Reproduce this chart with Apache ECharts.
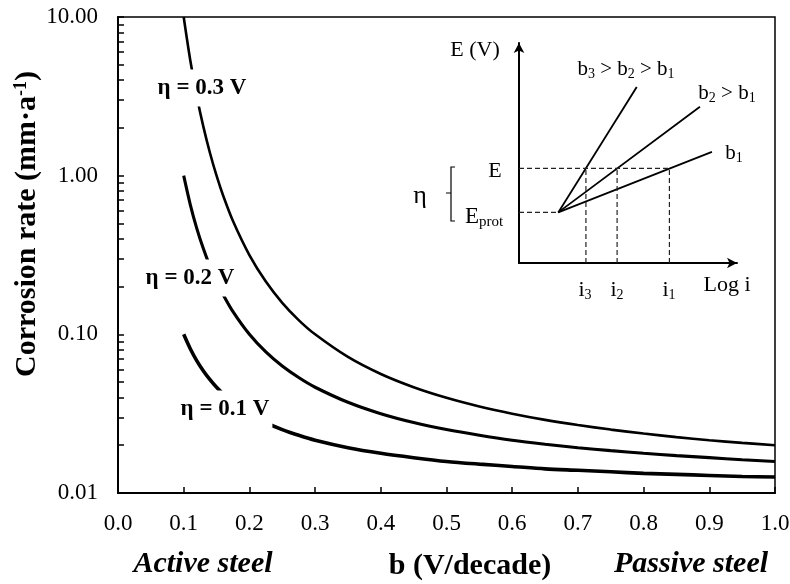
<!DOCTYPE html>
<html>
<head>
<meta charset="utf-8">
<script src="https://cdn.jsdelivr.net/npm/echarts@6/dist/echarts.min.js"></script>
<style>
  html, body { margin: 0; padding: 0; background: #fff; }
  #chart { width: 790px; height: 584px; }
</style>
</head>
<body>
<div id="chart"></div>
<script>
// Tafel slope b (V/decade)
const bValues = [0.1, 0.11, 0.12, 0.13, 0.14, 0.15, 0.16, 0.175, 0.2, 0.225, 0.25, 0.275, 0.3, 0.35,
  0.4, 0.45, 0.5, 0.55, 0.6, 0.65, 0.7, 0.75, 0.8, 0.85, 0.9, 0.95, 1.0]
// corrosion rate (mm/a)
const rate03 = [10, 5.34, 3.16, 2.03, 1.39, 1.0, 0.75, 0.518, 0.316, 0.215, 0.158, 0.123, 0.1, 0.072,
  0.0562, 0.0464, 0.0398, 0.0351, 0.0316, 0.0289, 0.0268, 0.0251, 0.0237, 0.0225, 0.0215, 0.0207, 0.02]
const rate02 = [1.0, 0.658, 0.464, 0.346, 0.268, 0.215, 0.178, 0.139, 0.1, 0.0774, 0.0631, 0.0534, 0.0464, 0.0373,
  0.0316, 0.0278, 0.0251, 0.0231, 0.0215, 0.0203, 0.0193, 0.0185, 0.0178, 0.0172, 0.0167, 0.0162, 0.0158]
const rate01 = [0.1, 0.0811, 0.0681, 0.0588, 0.0518, 0.0464, 0.0422, 0.0373, 0.0316, 0.0278, 0.0251, 0.0231, 0.0215, 0.0193,
  0.0178, 0.0167, 0.0158, 0.0152, 0.0147, 0.0142, 0.0139, 0.0136, 0.0133, 0.0131, 0.0129, 0.0127, 0.0126]
const yLabelValues = [0.01, 0.1, 1, 10]
const yTickValues = [0.01, 0.02, 0.03, 0.04, 0.05, 0.06, 0.07, 0.08, 0.09,
  0.1, 0.2, 0.3, 0.4, 0.5, 0.6, 0.7, 0.8, 0.9,
  1, 2, 3, 4, 5, 6, 7, 8, 9, 10]

// inset sketch (arbitrary units 0-100)
const insetOrigin = [18, 23]
const insetB1 = [88.5, 50.5]
const insetB2 = [83, 71]
const insetB3 = [54, 80]
const insetE = 43
const insetI = [30.7, 45, 69] // i3, i2, i1

const serif = 'Liberation Serif, Times New Roman, serif'
const chart = echarts.init(document.getElementById('chart'))

const pairs = ys => bValues.map((b, i) => [b, ys[i]])
const curve = (name, ys, w) => ({
  name,
  type: 'line',
  data: pairs(ys),
  smooth: 0.3,
  symbol: 'none',
  lineStyle: { color: '#000', width: w },
  z: 3,
})
const insetLine = (data, dashed) => ({
  type: 'line',
  xAxisIndex: 1,
  yAxisIndex: 1,
  data,
  symbol: 'none',
  silent: true,
  lineStyle: dashed ? { color: '#222', width: 1.2, type: [5, 3] } : { color: '#000', width: 1.8 },
})
const txt = (text, x, y, size, extra) => ({
  type: 'text',
  x,
  y,
  z: 100,
  style: Object.assign({
    text,
    fill: '#000',
    font: `${size}px ${serif}`,
    align: 'center',
    textAlign: 'center',
    verticalAlign: 'middle',
    textVerticalAlign: 'middle',
  }, extra || {}),
})
const subRich = size => ({
  n: { fontSize: size, fontFamily: serif, fill: '#000' },
  s: { fontSize: Math.round(size * 0.65), fontFamily: serif, fill: '#000', padding: [11, 0, 0, 0] },
})
const etaLabel = (text, x, y) => txt(text, x, y, 23, {
  font: `bold 23px ${serif}`,
  backgroundColor: '#fff',
  padding: [7, 3],
})

const option = {
  backgroundColor: '#fff',
  animation: false,
  grid: [
    { left: 118, top: 17, width: 657, height: 476, show: true, borderColor: '#000', borderWidth: 1.5, outerBoundsMode: 'none' },
    { left: 519, top: 43, width: 218, height: 220, outerBoundsMode: 'none' },
  ],
  xAxis: [
    {
      type: 'value',
      min: 0,
      max: 1,
      interval: 0.1,
      name: 'b (V/decade)',
      nameLocation: 'middle',
      nameGap: 58,
      nameMoveOverlap: false,
      nameTextStyle: { fontFamily: serif, fontSize: 30, fontWeight: 'bold', color: '#000', padding: [0, 0, 0, 47] },
      axisLine: { lineStyle: { color: '#000', width: 2 } },
      axisTick: { inside: true, length: 6, lineStyle: { color: '#000', width: 1.5 } },
      axisLabel: { color: '#000', fontFamily: serif, fontSize: 23, margin: 19, formatter: v => v.toFixed(1) },
      splitLine: { show: false },
    },
    {
      type: 'value',
      gridIndex: 1,
      min: 0,
      max: 100,
      axisLine: { symbol: ['none', 'arrow'], symbolSize: [8, 10], lineStyle: { color: '#000', width: 2 } },
      axisTick: { show: false },
      axisLabel: { show: false },
      splitLine: { show: false },
    },
  ],
  yAxis: [
    {
      type: 'log',
      logBase: 10,
      min: 0.01,
      max: 10,
      name: '{t|Corrosion rate (mm·a}{sup|-1}{t|)}',
      nameLocation: 'middle',
      nameGap: 76,
      nameMoveOverlap: false,
      nameTextStyle: {
        padding: [0, 0, 0, 62],
        rich: {
          t: { fontFamily: serif, fontSize: 30, fontWeight: 'bold', color: '#000' },
          sup: { fontFamily: serif, fontSize: 18, fontWeight: 'bold', color: '#000', padding: [0, 0, 12, 0] },
        },
      },
      axisLine: { show: true, lineStyle: { color: '#000', width: 2 } },
      axisTick: { inside: true, length: 6, customValues: yTickValues, lineStyle: { color: '#000', width: 1.5 } },
      axisLabel: {
        color: '#000',
        fontFamily: serif,
        fontSize: 23,
        margin: 20,
        customValues: yLabelValues,
        formatter: v => Number(v).toFixed(2),
      },
      splitLine: { show: false },
      minorTick: { show: false },
    },
    {
      type: 'value',
      gridIndex: 1,
      min: 0,
      max: 100,
      axisLine: { show: true, symbol: ['none', 'arrow'], symbolSize: [8, 10], lineStyle: { color: '#000', width: 2 } },
      axisTick: { show: false },
      axisLabel: { show: false },
      splitLine: { show: false },
    },
  ],
  series: [
    curve('η = 0.3 V', rate03, 2.6),
    curve('η = 0.2 V', rate02, 3.1),
    curve('η = 0.1 V', rate01, 3.6),
    insetLine([insetOrigin, insetB1]),
    insetLine([insetOrigin, insetB2]),
    insetLine([insetOrigin, insetB3]),
    insetLine([[0, insetE], [insetI[2], insetE]], true),
    insetLine([[0, insetOrigin[1]], insetOrigin], true),
    ...insetI.map(x => insetLine([[x, 0], [x, insetE]], true)),
  ],
  graphic: [
    etaLabel('η = 0.3 V', 202, 88),
    etaLabel('η = 0.2 V', 190, 278),
    etaLabel('η = 0.1 V', 225, 409),
    txt('Active steel', 203, 564, 30, { font: `italic bold 30px ${serif}` }),
    txt('Passive steel', 691, 564, 30, { font: `italic bold 30px ${serif}` }),
    // inset annotations
    txt('E (V)', 475, 50, 22),
    txt('E', 495, 171, 22),
    txt('{n|E}{s|prot}', 484, 217, 22, { rich: subRich(23) }),
    txt('η', 420, 196, 26),
    {
      type: 'polyline',
      z: 100,
      shape: { points: [[455, 167], [451, 167], [451, 193], [446, 193], [451, 193], [451, 221], [455, 221]] },
      style: { stroke: '#000', lineWidth: 1.2, fill: null },
    },
    txt('{n|b}{s|3}{n| > b}{s|2}{n| > b}{s|1}', 626, 69, 21, { rich: subRich(21) }),
    txt('{n|b}{s|2}{n| > b}{s|1}', 727, 93, 21, { rich: subRich(21) }),
    txt('{n|b}{s|1}', 734, 153, 21, { rich: subRich(21) }),
    txt('{n|i}{s|3}', 585, 290, 22, { rich: subRich(22) }),
    txt('{n|i}{s|2}', 617, 290, 22, { rich: subRich(22) }),
    txt('{n|i}{s|1}', 669, 290, 22, { rich: subRich(22) }),
    txt('Log i', 727, 285, 22),
  ],
}
chart.setOption(option)
</script>
</body>
</html>
